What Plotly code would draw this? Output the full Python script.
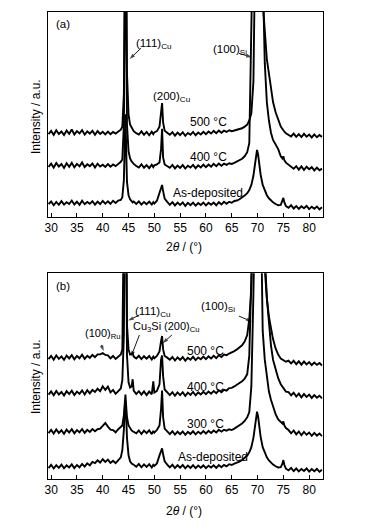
import plotly.graph_objects as go

# 2theta grid (degrees), shared by all patterns
two_theta = [29.5,30.0,30.5,31.0,31.5,32.0,32.5,33.0,33.5,34.0,34.5,35.0,35.5,36.0,36.5,37.0,37.5,38.0,38.5,39.0,39.5,40.0,40.5,41.0,41.5,42.0,42.5,43.0,43.5,
             43.8,44.1,44.3,44.4,44.5,44.7,45.0,45.3,45.6,45.8,46.0,
             46.5,47.0,47.5,48.0,48.5,49.0,49.5,49.8,50.0,50.5,
             51.0,51.3,51.5,51.7,52.0,52.5,
             53.0,53.5,54.0,54.5,55.0,55.5,56.0,56.5,57.0,57.5,58.0,58.5,59.0,59.5,60.0,60.5,61.0,61.5,62.0,62.5,63.0,63.5,64.0,64.5,65.0,65.5,66.0,66.5,
             67.0,67.5,68.0,68.4,68.8,69.2,69.5,69.7,69.9,70.1,70.3,70.6,71.0,71.4,71.8,72.2,72.6,73.0,73.5,74.0,74.5,
             74.8,75.0,75.2,75.5,
             76.0,76.5,77.0,77.5,78.0,78.5,79.0,79.5,80.0,80.5,81.0,81.5,82.0,82.5]

# Panel (a) intensities (a.u., stacked)
a_asdep = [6.2,7.4,5.6,7.2,5.8,7.6,5.9,7.1,6.2,7.9,6.0,7.3,5.8,7.8,6.1,7.2,6.3,7.6,5.9,7.4,6.2,7.7,6.4,7.5,6.3,7.8,6.7,7.9,8.2,
           9.5,18,40,50,38,17,10.5,8.5,7.6,7.0,7.4,
           6.2,7.5,5.9,7.2,6.1,7.4,6.0,7.1,6.4,7.8,
           11.5,14.5,15.5,12.5,8.8,7.2,
           5.8,7.1,5.5,6.9,5.7,7.0,5.3,6.8,5.6,6.9,5.4,6.7,5.7,6.9,5.5,6.8,5.8,6.9,5.6,7.1,6.0,7.3,6.3,7.3,6.8,7.7,7.9,8.5,
           9.3,10.3,11.5,13.0,15.5,20.0,25.5,29.5,32.6,30.5,26.0,20.5,15.5,12.5,10.5,9.0,7.8,7.0,6.2,5.6,5.8,
           7.5,9.2,7.0,5.2,
           4.4,5.6,4.0,5.2,3.8,5.1,4.1,5.3,3.7,4.9,3.9,5.0,3.6,4.6]
a_400 = [24.3,25.9,24.0,26.2,24.5,25.7,23.8,26.1,24.4,26.3,24.1,25.8,24.6,26.5,24.2,25.6,24.7,26.0,24.0,25.9,24.5,25.4,24.3,25.7,24.4,25.5,24.7,25.8,26.8,
         28,45,110,160,130,45,32,28.5,27,26.2,25.8,
         24.8,24.0,25.6,23.9,25.2,23.7,25.4,24.2,25.1,25.6,
         26.5,33,43,29,25.5,24.8,
         23.9,25.3,23.6,25.0,23.8,25.2,23.5,24.9,24.0,25.3,23.7,25.1,24.1,25.4,24.2,25.5,24.4,25.8,24.7,26.0,24.9,25.9,25.3,26.1,25.8,26.3,26.9,27.5,
         28.3,29.5,31.5,36,100,150,170,180,185,180,170,150,120,75,56,47,41,37.5,35,33,29.5,
         28.5,29.5,27.5,26.4,
         25.5,24.7,23.4,24.7,23.0,24.6,22.8,24.4,23.2,24.2,22.6,24.0,22.7,23.5]
a_500 = [40.3,41.9,40.0,42.2,40.4,41.6,39.9,42.1,40.5,42.6,40.2,41.8,40.7,42.3,40.1,41.7,40.6,42.0,40.0,41.8,40.4,41.5,40.2,41.6,40.3,41.4,40.6,41.8,42.5,
         44,60,130,180,150,70,50,45,43.5,42.5,41.8,
         40.8,40.1,41.7,40.0,41.4,39.8,41.5,40.3,41.2,41.8,
         44,50,55.5,46,42,41,
         40.0,41.3,39.6,41.1,39.9,41.3,39.5,40.9,40.0,41.4,39.8,41.1,40.2,41.5,40.3,41.6,40.6,41.9,40.8,42.1,41.0,42.0,41.4,42.2,41.8,42.1,42.4,42.8,
         43.2,44.0,45.0,47.0,50.5,66,160,190,200,195,185,165,105,88,77,70,62,56,51,47,44,
         43,42,41.5,40.8,
         40.1,39.2,40.6,39.0,40.3,38.9,40.5,39.1,40.1,38.7,40.2,38.8,39.9,39.0]

# Panel (b) intensities (a.u., stacked)
b_asdep = [5.3,6.9,5.1,6.7,5.4,7.0,5.2,6.6,5.6,7.1,5.3,6.8,5.7,7.3,6.0,7.6,6.6,8.3,7.7,9.1,8.0,9.6,8.3,9.4,7.8,8.9,7.7,9.1,10.5,
           14,24,36,38,34,20,11.5,8.6,7.5,7.0,6.9,
           6.0,7.3,5.7,7.1,5.9,7.2,5.6,6.9,6.4,7.6,
           11.5,14.2,14.9,12.0,8.6,7.0,
           5.6,6.9,5.3,6.7,5.5,6.8,5.2,6.5,5.4,6.7,5.3,6.5,5.5,6.6,5.3,6.5,5.6,6.7,5.4,6.8,5.7,6.9,6.2,7.2,6.8,7.5,7.9,8.5,
           9.2,10.2,11.4,13.0,15.5,20.0,25.5,29.5,32.7,30.5,26.0,20.5,15.5,12.5,10.5,9.0,7.8,7.0,6.2,5.6,5.8,
           7.3,9.2,6.8,5.0,
           4.2,5.4,3.8,5.1,3.7,4.9,3.9,5.1,3.6,4.8,3.8,4.9,3.5,4.5]
b_300 = [22.3,23.9,22.1,24.1,22.4,23.7,22.0,24.0,22.6,24.2,22.2,23.8,22.7,24.3,22.4,23.9,22.9,24.3,23.2,24.2,24.5,26.0,27.2,25.5,24.0,23.8,22.7,24.2,25.5,
         26,31,38,41,37,30,26,24.5,23.6,23.2,23.0,
         22.2,23.6,21.9,23.5,22.3,23.7,21.8,23.4,22.5,23.8,
         26,34,43,30,24.5,23.2,
         21.8,23.2,21.6,23.0,21.8,23.1,21.5,22.9,21.9,23.2,21.7,23.0,22.0,23.3,22.1,23.4,22.4,23.6,22.6,23.9,23.0,23.9,23.5,24.2,23.8,24.5,25.2,26.0,
         27.0,28.2,30.0,32.5,45,90,150,180,190,185,175,140,72,58,49,42.5,38.5,35,31.5,29,27.5,
         27.0,28.0,26.0,24.8,
         23.8,22.2,23.6,21.7,23.1,21.3,22.9,21.5,22.6,21.0,22.4,21.1,22.1,20.8]
b_400 = [41.0,42.6,40.7,42.8,41.1,42.3,40.6,42.7,41.3,42.9,40.8,42.5,41.4,43.1,41.1,43.2,41.6,43.3,42.3,43.9,42.7,45.1,43.3,44.9,42.1,43.3,41.4,42.8,44.0,
         48,70,140,170,140,60,47,44.5,45,48.5,43.0,
         41.3,42.7,41.0,42.6,40.8,42.5,41.2,47.5,42.0,42.8,
         46,58,60,50,43.5,42.2,
         40.8,42.2,40.5,42.1,40.8,42.2,40.4,42.0,40.9,42.3,40.7,42.1,41.1,42.4,41.2,42.5,41.5,42.8,41.7,43.1,42.2,43.4,43.0,44.2,44.3,45.0,45.8,46.6,
         47.5,48.8,51,60,100,160,190,200,205,200,195,180,150,110,88,75,65,58,53,49,46,
         45,44.3,43.5,42.5,
         42.2,40.7,41.9,40.1,41.5,39.7,41.3,39.9,41.0,39.4,40.8,39.5,40.5,39.2]
b_500 = [58.3,59.9,58.0,60.1,58.4,59.6,57.9,60.0,58.6,60.2,58.2,59.8,58.7,60.4,58.4,59.9,58.9,60.3,59.2,60.6,60.6,61.2,60.3,60.1,58.6,59.8,58.4,59.7,60.5,
         63,85,160,200,170,75,63,60.5,60.8,61.5,59.5,
         58.6,59.9,58.3,59.7,58.5,59.8,58.1,59.5,58.7,59.8,
         62,67,69.5,63,59.8,59.0,
         58.0,59.3,57.6,59.1,57.9,59.3,57.5,58.9,58.0,59.4,57.8,59.1,58.2,59.5,58.3,59.6,58.6,59.9,58.8,60.2,59.3,60.5,60.2,61.0,61.5,62.2,63.0,63.8,
         65,66.8,70,78,92,140,200,220,225,220,215,200,170,102,88,79,73.4,68,63.5,60.5,58.5,
         58.0,57.8,57.3,57.0,
         57.5,56.2,57.5,55.8,57.2,55.6,57.1,55.7,56.8,55.4,56.6,55.5,56.4,55.2]

tick_vals = [30, 35, 40, 45, 50, 55, 60, 65, 70, 75, 80]
tick_text = [str(v) for v in tick_vals]

for arr in (a_asdep, a_400, a_500, b_asdep, b_300, b_400, b_500):
    assert len(arr) == len(two_theta), len(arr)

FONT = "Liberation Sans, Arial, sans-serif"
W, H = 376, 527

fig = go.Figure()
line = dict(color="black", width=1.9)
for ys in (a_asdep, a_400, a_500):
    fig.add_trace(go.Scatter(x=two_theta, y=ys, mode="lines", line=line,
                             xaxis="x", yaxis="y", showlegend=False, hoverinfo="skip"))
for ys in (b_asdep, b_300, b_400, b_500):
    fig.add_trace(go.Scatter(x=two_theta, y=ys, mode="lines", line=line,
                             xaxis="x2", yaxis="y2", showlegend=False, hoverinfo="skip"))

xdom = [44.5 / W, 322 / W]
xa = dict(range=[29.4, 82.6], tickmode="array", tickvals=tick_vals, ticktext=tick_text,
          ticks="inside", ticklen=4, tickwidth=1, tickcolor="black",
          showline=True, mirror=True, linecolor="black", linewidth=1,
          showgrid=False, zeroline=False, tickfont=dict(family=FONT, size=12, color="black"),
          domain=xdom)
ya = dict(range=[0, 100], showticklabels=False, ticks="", showline=True, mirror=True,
          linecolor="black", linewidth=1, showgrid=False, zeroline=False)

fig.update_layout(
    width=W, height=H, margin=dict(l=0, r=0, t=0, b=0),
    paper_bgcolor="white", plot_bgcolor="white",
    xaxis=dict(xa, anchor="y"),
    yaxis=dict(ya, domain=[1 - 216.7 / H, 1 - 12 / H], anchor="x"),
    xaxis2=dict(xa, anchor="y2"),
    yaxis2=dict(ya, domain=[1 - 479 / H, 1 - 273.3 / H], anchor="x2"),
)

tf = dict(family=FONT, size=12, color="black")
ann = []

def txt(x, y, t, xr, yr, xanchor="left", size=11.5):
    ann.append(dict(x=x, y=y, xref=xr, yref=yr, text=t, showarrow=False,
                    xanchor=xanchor, yanchor="middle", font=dict(tf, size=size)))

def arrow(x, y, ax, ay, xr, yr):
    fig.add_trace(go.Scatter(x=[ax, x], y=[ay, y], mode="lines+markers",
                             xaxis=xr, yaxis=yr, showlegend=False, hoverinfo="skip",
                             line=dict(color="black", width=0.9),
                             marker=dict(symbol=["circle", "arrow"], size=[0, 6],
                                         angleref="previous", color="black",
                                         line=dict(width=0))))

# Panel (a)
txt(30.6, 94.1, "(a)", "x", "y", size=11.5)
txt(46.1, 84.4, "(111)<sub>Cu</sub>", "x", "y")
arrow(45.2, 77.0, 47.4, 82.3, "x", "y")
txt(49.3, 58.6, "(200)<sub>Cu</sub>", "x", "y")
txt(60.9, 81.4, "(100)<sub>Si</sub>", "x", "y")
arrow(68.9, 77.9, 66.4, 79.8, "x", "y")
txt(60.5, 46.4, "500 °C", "x", "y", "center", 12)
txt(60.5, 29.3, "400 °C", "x", "y", "center", 12)
txt(60.4, 11.7, "As-deposited", "x", "y", "center", 12)

# Panel (b)
txt(30.6, 93.8, "(b)", "x2", "y2", size=11.5)
txt(45.8, 81.3, "(111)<sub>Cu</sub>", "x2", "y2")
arrow(44.9, 77.0, 47.1, 79.7, "x2", "y2")
txt(45.4, 74.0, "Cu<sub>3</sub>Si", "x2", "y2", size=11)
arrow(45.5, 59.5, 47.1, 70.0, "x2", "y2")
txt(51.4, 74.0, "(200)<sub>Cu</sub>", "x2", "y2", size=11)
arrow(51.6, 66.0, 53.4, 70.0, "x2", "y2")
txt(36.2, 70.5, "(100)<sub>Ru</sub>", "x2", "y2", size=11)
arrow(40.2, 62.2, 39.7, 65.1, "x2", "y2")
txt(58.6, 83.5, "(100)<sub>Si</sub>", "x2", "y2")
arrow(68.9, 76.5, 66.4, 79.2, "x2", "y2")
txt(60.0, 62.4, "500 °C", "x2", "y2", "center", 12)
txt(59.9, 44.9, "400 °C", "x2", "y2", "center", 12)
txt(59.9, 26.7, "300 °C", "x2", "y2", "center", 12)
txt(61.3, 10.5, "As-deposited", "x2", "y2", "center", 12)

# Axis titles
for ycen in (116.7, 376.7):
    ann.append(dict(x=31.7 / W, y=1 - ycen / H, xref="paper", yref="paper",
                    text="Intensity / a.u.", showarrow=False, textangle=-90,
                    xanchor="center", yanchor="middle", font=tf))
for ycen in (246.7, 510.7):
    ann.append(dict(x=181.7 / W, y=1 - ycen / H, xref="paper", yref="paper",
                    text="2<i>θ</i> / (°)", showarrow=False,
                    xanchor="center", yanchor="middle", font=tf))

fig.update_layout(annotations=ann)
fig.write_html("out.html", config={"displayModeBar": False},
               post_script="document.body.style.margin='0';document.body.style.overflow='hidden';")
